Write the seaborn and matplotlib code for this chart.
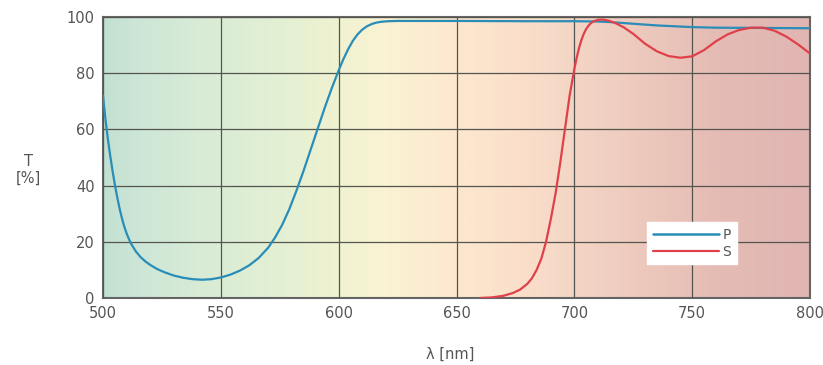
import numpy as np
import pandas as pd
import matplotlib
matplotlib.use("Agg")
import matplotlib.pyplot as plt
from matplotlib.colors import LinearSegmentedColormap
from matplotlib.lines import Line2D
import seaborn as sns

# P polarization
p_wl = [500, 501, 502, 503, 504, 505, 506, 507, 508, 509, 510, 511, 512, 514, 516, 518, 520, 523,
        526, 530, 534, 538, 542, 546, 550, 554, 558, 562, 566, 570, 573, 576, 579, 582, 585, 588,
        591, 594, 597, 600, 602, 604, 606, 608, 610, 612, 614, 616, 618, 621, 625, 630, 640, 650,
        680, 700, 710, 715, 720, 725, 730, 735, 740, 745, 750, 760, 780, 800]
p_t = [72, 64, 57, 51, 45.5, 40.5, 36, 32, 28.5, 25.5, 23, 21, 19.2, 16.5, 14.5, 13, 11.8, 10.3,
       9.2, 8, 7.2, 6.7, 6.5, 6.7, 7.3, 8.3, 9.7, 11.6, 14.2, 17.8, 21.5, 26, 31.5, 38, 45, 52.5,
       60, 67.5, 74.5, 81, 85, 88.5, 91.5, 93.8, 95.5, 96.7, 97.5, 98, 98.3, 98.5, 98.6, 98.6, 98.6, 98.6,
       98.5, 98.5, 98.4, 98.2, 97.9, 97.6, 97.3, 97, 96.8, 96.6, 96.4, 96.2, 96.1, 96]

# S polarization
s_wl = [660, 665, 670, 674, 677, 680, 682, 684, 686, 688, 690, 692, 694, 696, 698, 700, 701, 702,
        703, 704, 705, 706, 707, 708, 710, 712, 715, 718, 721, 725, 730, 735, 740, 745, 750, 755,
        760, 765, 770, 775, 780, 785, 790, 795, 800]
s_t = [0, 0.2, 0.8, 1.8, 3, 5, 7, 10, 14, 20, 28, 37, 48, 60, 72, 81.5, 85.5, 89,
       91.8, 94, 95.7, 96.9, 97.8, 98.4, 99, 99.1, 98.6, 97.6, 96.3, 94, 90.5, 87.8, 86.1, 85.5, 86, 88.2,
       91.3, 93.8, 95.4, 96.2, 96.2, 95.1, 93, 90.2, 87]

x_ticks = [500, 550, 600, 650, 700, 750, 800]
y_ticks = [0, 20, 40, 60, 80, 100]

df = pd.concat([
    pd.DataFrame({"wl": p_wl, "T": p_t, "pol": "P"}),
    pd.DataFrame({"wl": s_wl, "T": s_t, "pol": "S"}),
])

sns.set_style("white")
fig = plt.figure(figsize=(8.23, 3.65), dpi=100)
ax = fig.add_axes([103 / 823, 1 - 298 / 365, 707 / 823, 281 / 365])

# background spectrum gradient
bg_stops = [
    (0.00, (0.76, 0.88, 0.82)),
    (0.04, (0.80, 0.90, 0.84)),
    (0.12, (0.84, 0.92, 0.84)),
    (0.25, (0.89, 0.94, 0.83)),
    (0.33, (0.94, 0.95, 0.82)),
    (0.40, (0.98, 0.95, 0.83)),
    (0.50, (0.99, 0.91, 0.81)),
    (0.60, (0.98, 0.87, 0.79)),
    (0.68, (0.95, 0.83, 0.77)),
    (0.76, (0.93, 0.79, 0.74)),
    (0.86, (0.90, 0.74, 0.71)),
    (1.00, (0.88, 0.71, 0.70)),
]
cmap = LinearSegmentedColormap.from_list("spec", bg_stops)
grad = np.linspace(0, 1, 400).reshape(1, -1)
ax.imshow(grad, cmap=cmap, aspect="auto", extent=[500, 800, 0, 100], zorder=0)

palette = {"P": "#2a8db8", "S": "#e0404a"}
sns.lineplot(data=df, x="wl", y="T", hue="pol", palette=palette, linewidth=1.6,
             ax=ax, legend=False, zorder=3, sort=False)

ax.set_xlim(500, 800)
ax.set_ylim(0, 100)
ax.set_xticks(x_ticks)
ax.set_yticks(y_ticks)
ax.grid(True, color="#55554f", linewidth=0.9, zorder=1)
ax.set_axisbelow(False)
for sp in ax.spines.values():
    sp.set_color("#666666")
    sp.set_linewidth(1.5)
ax.tick_params(length=0, labelsize=10.5, colors="#555555", pad=6)
ax.set_xlabel("")
ax.set_ylabel("")

fig.text(28 / 823, 1 - 170 / 365, "T\n[%]", ha="center", va="center", fontsize=10.5,
         color="#555555", linespacing=1.1)
fig.text(450 / 823, 1 - 354 / 365, "λ [nm]", ha="center", va="center", fontsize=10.5,
         color="#555555")

handles = [Line2D([0], [0], color=palette["P"], lw=1.8),
           Line2D([0], [0], color=palette["S"], lw=1.6)]
leg = ax.legend(handles, ["P", "S"], loc="lower left", bbox_to_anchor=(0.76, 0.095),
                frameon=True, fancybox=False, framealpha=1, edgecolor="white",
                fontsize=10, handlelength=4.8, handletextpad=0.2, borderpad=0.4,
                labelspacing=0.2)
for t in leg.get_texts():
    t.set_color("#555555")

fig.savefig("out.png", dpi=100)
